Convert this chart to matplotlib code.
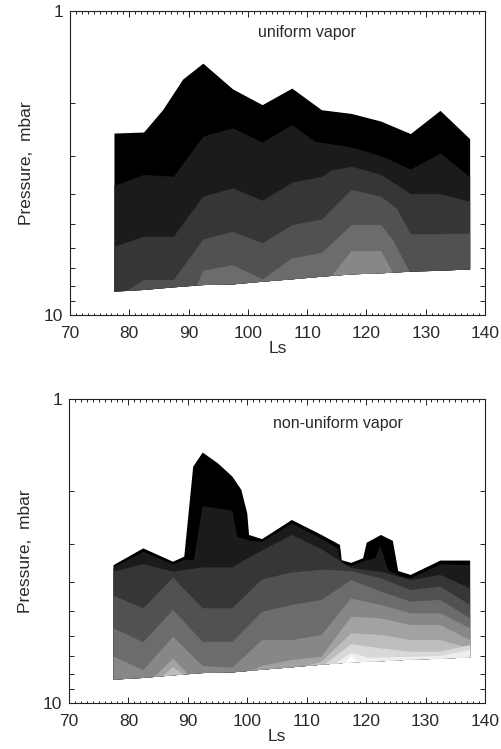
import numpy as np
import matplotlib
matplotlib.use("Agg")
import matplotlib.pyplot as plt
from matplotlib.ticker import FixedLocator, MultipleLocator, NullFormatter, FixedFormatter

plt.rcParams["font.family"] = ["Liberation Sans", "DejaVu Sans"]

# grey shade of each contour band, from the top band (black) downwards
GRAYS = ["#000000", "#1b1b1b", "#363636", "#515151", "#6c6c6c", "#878787",
         "#a2a2a2", "#bdbdbd", "#d8d8d8", "#eeeeee", "#ffffff"]

# surface pressure (lower edge of the data), same in both panels
SURF_LS = [77.5, 82.5, 87.5, 92.5, 97.5, 102.5, 107.5, 112.5, 117.5, 122.5, 127.5, 132.5, 137.5]
SURF_P = [8.38, 8.27, 8.11, 7.97, 7.93, 7.77, 7.63, 7.48, 7.35, 7.29, 7.20, 7.15, 7.08]

# ---- uniform vapor: upper edge of each band (Ls, mbar) ----
UNI0_LS = [77.5, 82.5, 85.7, 89.1, 92.5, 97.5, 102.5, 107.5, 112.5, 117.5, 122.5, 127.5, 132.5, 137.5]
UNI0_P = [2.53, 2.51, 2.12, 1.68, 1.49, 1.81, 2.04, 1.80, 2.12, 2.18, 2.31, 2.54, 2.13, 2.64]
UNI1_LS = [77.5, 82.5, 87.5, 92.5, 97.5, 102.5, 107.5, 111.3, 117.5, 122.5, 127.5, 132.5, 137.5]
UNI1_P = [3.76, 3.46, 3.51, 2.59, 2.43, 2.71, 2.37, 2.69, 2.81, 3.00, 3.32, 2.94, 3.52]
UNI2_LS = [77.5, 82.5, 87.5, 92.5, 97.5, 102.5, 107.5, 112.5, 114.1, 117.5, 122.5, 127.5, 132.5, 137.5]
UNI2_P = [5.96, 5.53, 5.53, 4.08, 3.83, 4.21, 3.67, 3.51, 3.35, 3.25, 3.46, 4.00, 4.00, 4.24]
UNI3_LS = [79.6, 82.5, 87.5, 92.5, 97.5, 102.5, 107.5, 112.5, 117.5, 122.5, 125.1, 127.5, 132.5, 137.5]
UNI3_P = [8.32, 7.67, 7.67, 5.64, 5.32, 5.81, 5.06, 4.85, 3.88, 4.08, 4.46, 5.42, 5.42, 5.39]
UNI4_LS = [91.4, 92.5, 97.5, 102.5, 107.5, 112.5, 117.5, 122.5, 124.5, 127.3]
UNI4_P = [7.95, 7.15, 6.85, 7.63, 6.51, 6.24, 5.06, 5.06, 5.67, 7.20]
UNI5_LS = [114.4, 117.5, 122.5, 124.5]
UNI5_P = [7.33, 6.16, 6.16, 7.28]

# ---- non-uniform vapor ----
NON0_LS = [77.5, 82.5, 87.5, 89.4, 90.9, 92.5, 95.1, 97.5, 99.0, 100.0, 100.3, 102.5, 107.5,
           112.5, 115.6, 115.9, 117.5, 119.5, 120.1, 122.5, 124.5, 125.4, 127.5, 132.5, 137.5]
NON0_P = [3.52, 3.10, 3.43, 3.30, 1.67, 1.50, 1.63, 1.80, 1.99, 2.38, 2.80, 2.89, 2.50,
          2.80, 3.02, 3.39, 3.46, 3.34, 2.97, 2.80, 2.93, 3.68, 3.79, 3.40, 3.40]
NON1_LS = [77.5, 82.5, 87.5, 89.4, 91.0, 92.5, 97.5, 98.3, 100.5, 102.5, 107.5, 112.5, 115.2,
           115.9, 117.5, 119.5, 121.5, 122.4, 123.7, 125.6, 127.5, 132.5, 137.5]
NON1_P = [3.58, 3.18, 3.50, 3.38, 3.39, 2.25, 2.33, 2.84, 2.93, 2.95, 2.57, 2.88, 3.10,
          3.47, 3.54, 3.42, 3.34, 3.04, 3.65, 3.82, 3.89, 3.50, 3.52]
NON2_LS = [77.5, 82.5, 87.5, 92.5, 97.5, 100.5, 102.5, 107.5, 112.5, 115.0, 117.5, 122.5, 127.5, 132.5, 137.5]
NON2_P = [3.70, 3.49, 3.70, 3.58, 3.58, 3.30, 3.15, 2.80, 3.12, 3.35, 3.60, 3.70, 3.94, 3.79, 4.20]
NON3_LS = [77.5, 82.5, 87.5, 92.5, 97.5, 102.5, 107.5, 112.5, 117.5, 122.5, 127.5, 132.5, 137.5]
NON3_P = [4.44, 4.88, 3.87, 4.88, 4.88, 3.92, 3.72, 3.64, 3.68, 3.89, 4.25, 4.14, 4.76]
NON4_LS = [77.5, 82.5, 87.5, 92.5, 97.5, 102.5, 107.5, 112.5, 117.5, 122.5, 127.5, 132.5, 137.5]
NON4_P = [5.68, 6.31, 4.94, 6.29, 6.29, 5.01, 4.76, 4.58, 3.94, 4.30, 4.64, 4.58, 5.27]
NON5_LS = [77.5, 82.5, 87.5, 92.5, 97.5, 102.5, 107.5, 112.5, 117.5, 122.5, 127.5, 132.5, 137.5]
NON5_P = [7.04, 7.79, 6.05, 7.55, 7.65, 6.21, 6.21, 5.97, 4.53, 4.76, 5.07, 5.07, 5.68]
NON6A_LS = [84.4, 87.5, 90.0]
NON6A_P = [8.20, 7.13, 8.02]
NON6B_LS = [100.5, 102.5, 107.5, 112.5, 117.5, 122.5, 127.5, 132.5, 137.5]
NON6B_P = [7.85, 7.55, 7.22, 7.04, 5.20, 5.27, 5.54, 5.54, 6.21]
NON7A_LS = [85.8, 87.5, 89.3]
NON7A_P = [8.14, 7.62, 8.05]
NON7B_LS = [110.0, 112.5, 117.5, 122.5, 127.5, 132.5, 137.5]
NON7B_P = [7.55, 7.30, 5.90, 5.97, 6.21, 6.21, 6.61]
NON8_LS = [113.0, 117.5, 122.5, 127.5, 132.5, 137.5]
NON8_P = [7.46, 6.40, 6.61, 6.78, 6.78, 6.45]
NON9_LS = [114.8, 117.5, 120.5, 127.5, 132.5, 135.0, 137.5]
NON9_P = [7.40, 6.85, 7.10, 7.05, 7.00, 6.85, 6.69]
NON10_LS = [116.5, 117.5, 118.7]
NON10_P = [7.38, 7.00, 7.35]

UNI_BANDS = [(UNI0_LS, UNI0_P, 0), (UNI1_LS, UNI1_P, 1), (UNI2_LS, UNI2_P, 2),
             (UNI3_LS, UNI3_P, 3), (UNI4_LS, UNI4_P, 4), (UNI5_LS, UNI5_P, 5)]
NON_BANDS = [(NON0_LS, NON0_P, 0), (NON1_LS, NON1_P, 1), (NON2_LS, NON2_P, 2),
             (NON3_LS, NON3_P, 3), (NON4_LS, NON4_P, 4), (NON5_LS, NON5_P, 5),
             (NON6A_LS, NON6A_P, 6), (NON6B_LS, NON6B_P, 6),
             (NON7A_LS, NON7A_P, 7), (NON7B_LS, NON7B_P, 7),
             (NON8_LS, NON8_P, 8), (NON9_LS, NON9_P, 9), (NON10_LS, NON10_P, 10)]

TXT = "#2a2a2a"
FS = 12.5


def surface_between(x0, x1):
    # surface line from x1 back to x0 (interpolated in log p, as drawn)
    xs = [x for x in SURF_LS if x0 < x < x1]
    xs = [x0] + xs + [x1]
    lp = np.interp(xs, SURF_LS, np.log10(SURF_P))
    return xs[::-1], list(10 ** lp[::-1])


def draw_panel(ax, bands, title, tx, ty):
    # each band: from its upper edge down to the surface, lighter ones on top
    for ls, p, k in bands:
        sx, sp = surface_between(ls[0], ls[-1])
        ax.fill(list(ls) + sx, list(p) + sp, color=GRAYS[k], lw=0, zorder=1)

    ax.set_yscale("log")
    ax.set_xlim(70, 140)
    ax.set_ylim(10, 1)
    ax.xaxis.set_major_locator(MultipleLocator(10))
    ax.xaxis.set_minor_locator(MultipleLocator(1))
    ax.yaxis.set_major_locator(FixedLocator([1, 10]))
    ax.yaxis.set_major_formatter(FixedFormatter(["1", "10"]))
    ax.yaxis.set_minor_locator(FixedLocator([2, 3, 4, 5, 6, 7, 8, 9]))
    ax.yaxis.set_minor_formatter(NullFormatter())
    ax.tick_params(which="both", direction="in", top=True, right=True,
                   width=0.7, color="#222222", labelsize=FS, labelcolor=TXT)
    ax.tick_params(axis="x", which="major", length=4.3, pad=8)
    ax.tick_params(axis="x", which="minor", length=1.8)
    ax.tick_params(axis="y", which="major", length=4.3, pad=5)
    ax.tick_params(axis="y", which="minor", length=3.6)
    for s in ax.spines.values():
        s.set_linewidth(0.8)
        s.set_color("#222222")
    ax.set_xlabel("Ls", fontsize=FS, color=TXT, labelpad=0)
    ax.set_ylabel("Pressure,  mbar", fontsize=FS, color=TXT, labelpad=7)
    ax.text(tx, ty, title, transform=ax.transAxes, ha="center", va="center",
            fontsize=11.5, color=TXT)


fig = plt.figure(figsize=(5.01, 7.49), dpi=100)
ax1 = fig.add_axes([0.1397, 0.5794, 0.8283, 0.4059])
ax2 = fig.add_axes([0.1377, 0.0614, 0.8303, 0.4059])

draw_panel(ax1, UNI_BANDS, "uniform vapor", 0.571, 0.928)
draw_panel(ax2, NON_BANDS, "non-uniform vapor", 0.647, 0.921)

fig.savefig("out.png", dpi=100)
